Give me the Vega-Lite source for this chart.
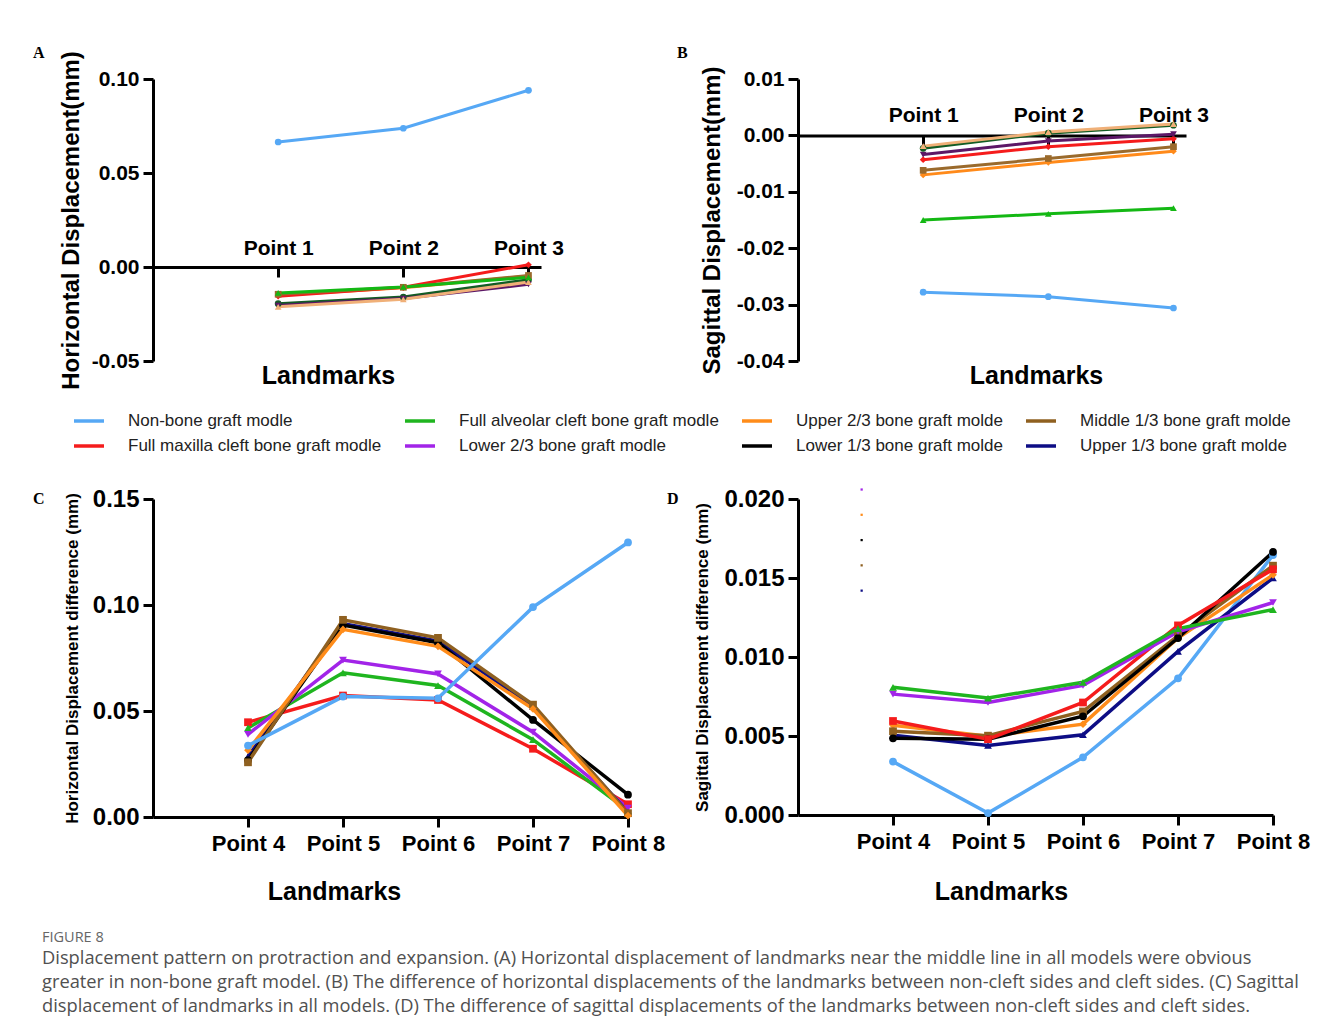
{
  "$schema": "https://vega.github.io/schema/vega-lite/v6.json",
  "background": "white",
  "padding": {"left": 33, "top": 44, "right": 10, "bottom": 10},
  "columns": 2,
  "bounds": "flush",
  "spacing": {"row": 138, "column": 170},
  "title": {
    "text": "FIGURE 8",
    "subtitle": [
      "Displacement pattern on protraction and expansion. (A) Horizontal displacement of landmarks near the middle line in all models were obvious",
      "greater in non-bone graft model. (B) The difference of horizontal displacements of the landmarks between non-cleft sides and cleft sides. (C) Sagittal",
      "displacement of landmarks in all models. (D) The difference of sagittal displacements of the landmarks between non-cleft sides and cleft sides."
    ],
    "orient": "bottom",
    "anchor": "start",
    "frame": "bounds",
    "font": "Open Sans",
    "fontSize": 14.5,
    "fontWeight": "normal",
    "color": "#666666",
    "subtitleFont": "Open Sans",
    "subtitleFontSize": 18.3,
    "subtitleColor": "#505050",
    "subtitleLineHeight": 24,
    "subtitlePadding": 4,
    "offset": 27,
    "dx": 9
  },
  "datasets": {
    "A": [
      {"series": "Lower 1/3 bone graft molde", "p": 1, "v": -0.0195},
      {"series": "Lower 1/3 bone graft molde", "p": 2, "v": -0.016},
      {"series": "Lower 1/3 bone graft molde", "p": 3, "v": -0.0068},
      {"series": "Lower 2/3 bone graft modle", "p": 1, "v": -0.0205},
      {"series": "Lower 2/3 bone graft modle", "p": 2, "v": -0.0168},
      {"series": "Lower 2/3 bone graft modle", "p": 3, "v": -0.0092},
      {"series": "Upper 1/3 bone graft molde", "p": 1, "v": -0.0212},
      {"series": "Upper 1/3 bone graft molde", "p": 2, "v": -0.0172},
      {"series": "Upper 1/3 bone graft molde", "p": 3, "v": -0.008},
      {"series": "Upper 2/3 bone graft molde", "p": 1, "v": -0.015},
      {"series": "Upper 2/3 bone graft molde", "p": 2, "v": -0.011},
      {"series": "Upper 2/3 bone graft molde", "p": 3, "v": -0.0048},
      {"series": "Full maxilla cleft bone graft modle", "p": 1, "v": -0.0155},
      {"series": "Full maxilla cleft bone graft modle", "p": 2, "v": -0.0108},
      {"series": "Full maxilla cleft bone graft modle", "p": 3, "v": 0.0012},
      {"series": "Middle 1/3 bone graft molde", "p": 1, "v": -0.0145},
      {"series": "Middle 1/3 bone graft molde", "p": 2, "v": -0.0108},
      {"series": "Middle 1/3 bone graft molde", "p": 3, "v": -0.0045},
      {"series": "Full alveolar cleft bone graft modle", "p": 1, "v": -0.0138},
      {"series": "Full alveolar cleft bone graft modle", "p": 2, "v": -0.0106},
      {"series": "Full alveolar cleft bone graft modle", "p": 3, "v": -0.0055},
      {"series": "Non-bone graft modle", "p": 1, "v": 0.0665},
      {"series": "Non-bone graft modle", "p": 2, "v": 0.0738},
      {"series": "Non-bone graft modle", "p": 3, "v": 0.094}
    ],
    "B": [
      {"series": "Non-bone graft modle", "p": 1, "v": -0.0278},
      {"series": "Non-bone graft modle", "p": 2, "v": -0.0286},
      {"series": "Non-bone graft modle", "p": 3, "v": -0.0306},
      {"series": "Full alveolar cleft bone graft modle", "p": 1, "v": -0.015},
      {"series": "Full alveolar cleft bone graft modle", "p": 2, "v": -0.0139},
      {"series": "Full alveolar cleft bone graft modle", "p": 3, "v": -0.0129},
      {"series": "Upper 2/3 bone graft molde", "p": 1, "v": -0.007},
      {"series": "Upper 2/3 bone graft molde", "p": 2, "v": -0.0048},
      {"series": "Upper 2/3 bone graft molde", "p": 3, "v": -0.0028},
      {"series": "Middle 1/3 bone graft molde", "p": 1, "v": -0.0062},
      {"series": "Middle 1/3 bone graft molde", "p": 2, "v": -0.0041},
      {"series": "Middle 1/3 bone graft molde", "p": 3, "v": -0.002},
      {"series": "Full maxilla cleft bone graft modle", "p": 1, "v": -0.0043},
      {"series": "Full maxilla cleft bone graft modle", "p": 2, "v": -0.002},
      {"series": "Full maxilla cleft bone graft modle", "p": 3, "v": -0.0006},
      {"series": "Lower 2/3 bone graft modle", "p": 1, "v": -0.0034},
      {"series": "Lower 2/3 bone graft modle", "p": 2, "v": -0.001},
      {"series": "Lower 2/3 bone graft modle", "p": 3, "v": 0.0002},
      {"series": "Lower 1/3 bone graft molde", "p": 1, "v": -0.0023},
      {"series": "Lower 1/3 bone graft molde", "p": 2, "v": 0.0004},
      {"series": "Lower 1/3 bone graft molde", "p": 3, "v": 0.0018},
      {"series": "Upper 1/3 bone graft molde", "p": 1, "v": -0.0019},
      {"series": "Upper 1/3 bone graft molde", "p": 2, "v": 0.0006},
      {"series": "Upper 1/3 bone graft molde", "p": 3, "v": 0.002}
    ],
    "C": [
      {"series": "Full maxilla cleft bone graft modle", "p": 4, "v": 0.0447},
      {"series": "Full maxilla cleft bone graft modle", "p": 5, "v": 0.0573},
      {"series": "Full maxilla cleft bone graft modle", "p": 6, "v": 0.0552},
      {"series": "Full maxilla cleft bone graft modle", "p": 7, "v": 0.0322},
      {"series": "Full maxilla cleft bone graft modle", "p": 8, "v": 0.006},
      {"series": "Full alveolar cleft bone graft modle", "p": 4, "v": 0.042},
      {"series": "Full alveolar cleft bone graft modle", "p": 5, "v": 0.068},
      {"series": "Full alveolar cleft bone graft modle", "p": 6, "v": 0.062},
      {"series": "Full alveolar cleft bone graft modle", "p": 7, "v": 0.0365},
      {"series": "Full alveolar cleft bone graft modle", "p": 8, "v": 0.003},
      {"series": "Lower 2/3 bone graft modle", "p": 4, "v": 0.039},
      {"series": "Lower 2/3 bone graft modle", "p": 5, "v": 0.074},
      {"series": "Lower 2/3 bone graft modle", "p": 6, "v": 0.0675},
      {"series": "Lower 2/3 bone graft modle", "p": 7, "v": 0.04},
      {"series": "Lower 2/3 bone graft modle", "p": 8, "v": 0.0042},
      {"series": "Upper 1/3 bone graft molde", "p": 4, "v": 0.0285},
      {"series": "Upper 1/3 bone graft molde", "p": 5, "v": 0.0912},
      {"series": "Upper 1/3 bone graft molde", "p": 6, "v": 0.083},
      {"series": "Upper 1/3 bone graft molde", "p": 7, "v": 0.052},
      {"series": "Upper 1/3 bone graft molde", "p": 8, "v": 0.0022},
      {"series": "Lower 1/3 bone graft molde", "p": 4, "v": 0.0268},
      {"series": "Lower 1/3 bone graft molde", "p": 5, "v": 0.0905},
      {"series": "Lower 1/3 bone graft molde", "p": 6, "v": 0.0822},
      {"series": "Lower 1/3 bone graft molde", "p": 7, "v": 0.0458},
      {"series": "Lower 1/3 bone graft molde", "p": 8, "v": 0.0105},
      {"series": "Middle 1/3 bone graft molde", "p": 4, "v": 0.0258},
      {"series": "Middle 1/3 bone graft molde", "p": 5, "v": 0.093},
      {"series": "Middle 1/3 bone graft molde", "p": 6, "v": 0.0845},
      {"series": "Middle 1/3 bone graft molde", "p": 7, "v": 0.053},
      {"series": "Middle 1/3 bone graft molde", "p": 8, "v": 0.0018},
      {"series": "Upper 2/3 bone graft molde", "p": 4, "v": 0.0315},
      {"series": "Upper 2/3 bone graft molde", "p": 5, "v": 0.0885},
      {"series": "Upper 2/3 bone graft molde", "p": 6, "v": 0.0805},
      {"series": "Upper 2/3 bone graft molde", "p": 7, "v": 0.051},
      {"series": "Upper 2/3 bone graft molde", "p": 8, "v": 0.0006},
      {"series": "Non-bone graft modle", "p": 4, "v": 0.0337},
      {"series": "Non-bone graft modle", "p": 5, "v": 0.0568},
      {"series": "Non-bone graft modle", "p": 6, "v": 0.056},
      {"series": "Non-bone graft modle", "p": 7, "v": 0.099},
      {"series": "Non-bone graft modle", "p": 8, "v": 0.1295}
    ],
    "D": [
      {"series": "Non-bone graft modle", "p": 4, "v": 0.00338},
      {"series": "Non-bone graft modle", "p": 5, "v": 0.00012},
      {"series": "Non-bone graft modle", "p": 6, "v": 0.00365},
      {"series": "Non-bone graft modle", "p": 7, "v": 0.00865},
      {"series": "Non-bone graft modle", "p": 8, "v": 0.01645},
      {"series": "Upper 1/3 bone graft molde", "p": 4, "v": 0.00505},
      {"series": "Upper 1/3 bone graft molde", "p": 5, "v": 0.0044},
      {"series": "Upper 1/3 bone graft molde", "p": 6, "v": 0.00508},
      {"series": "Upper 1/3 bone graft molde", "p": 7, "v": 0.01035},
      {"series": "Upper 1/3 bone graft molde", "p": 8, "v": 0.015},
      {"series": "Upper 2/3 bone graft molde", "p": 4, "v": 0.00568},
      {"series": "Upper 2/3 bone graft molde", "p": 5, "v": 0.00498},
      {"series": "Upper 2/3 bone graft molde", "p": 6, "v": 0.00575},
      {"series": "Upper 2/3 bone graft molde", "p": 7, "v": 0.0112},
      {"series": "Upper 2/3 bone graft molde", "p": 8, "v": 0.0152},
      {"series": "Middle 1/3 bone graft molde", "p": 4, "v": 0.0053},
      {"series": "Middle 1/3 bone graft molde", "p": 5, "v": 0.00502},
      {"series": "Middle 1/3 bone graft molde", "p": 6, "v": 0.00655},
      {"series": "Middle 1/3 bone graft molde", "p": 7, "v": 0.01135},
      {"series": "Middle 1/3 bone graft molde", "p": 8, "v": 0.01578},
      {"series": "Lower 1/3 bone graft molde", "p": 4, "v": 0.00485},
      {"series": "Lower 1/3 bone graft molde", "p": 5, "v": 0.0048},
      {"series": "Lower 1/3 bone graft molde", "p": 6, "v": 0.00625},
      {"series": "Lower 1/3 bone graft molde", "p": 7, "v": 0.0112},
      {"series": "Lower 1/3 bone graft molde", "p": 8, "v": 0.01665},
      {"series": "Full maxilla cleft bone graft modle", "p": 4, "v": 0.00595},
      {"series": "Full maxilla cleft bone graft modle", "p": 5, "v": 0.0048},
      {"series": "Full maxilla cleft bone graft modle", "p": 6, "v": 0.00712},
      {"series": "Full maxilla cleft bone graft modle", "p": 7, "v": 0.012},
      {"series": "Full maxilla cleft bone graft modle", "p": 8, "v": 0.01555},
      {"series": "Lower 2/3 bone graft modle", "p": 4, "v": 0.00765},
      {"series": "Lower 2/3 bone graft modle", "p": 5, "v": 0.00712},
      {"series": "Lower 2/3 bone graft modle", "p": 6, "v": 0.0082},
      {"series": "Lower 2/3 bone graft modle", "p": 7, "v": 0.0116},
      {"series": "Lower 2/3 bone graft modle", "p": 8, "v": 0.01345},
      {"series": "Full alveolar cleft bone graft modle", "p": 4, "v": 0.00808},
      {"series": "Full alveolar cleft bone graft modle", "p": 5, "v": 0.0074},
      {"series": "Full alveolar cleft bone graft modle", "p": 6, "v": 0.0084},
      {"series": "Full alveolar cleft bone graft modle", "p": 7, "v": 0.0118},
      {"series": "Full alveolar cleft bone graft modle", "p": 8, "v": 0.013}
    ],
    "Dstray": [
      {"series": "Lower 2/3 bone graft modle", "p": 3.67, "v": 0.0206},
      {"series": "Upper 2/3 bone graft molde", "p": 3.67, "v": 0.019},
      {"series": "Lower 1/3 bone graft molde", "p": 3.67, "v": 0.0174},
      {"series": "Middle 1/3 bone graft molde", "p": 3.67, "v": 0.0158},
      {"series": "Upper 1/3 bone graft molde", "p": 3.67, "v": 0.0142}
    ]
  },
  "resolve": {
    "scale": {"x": "independent", "y": "independent", "color": "shared", "stroke": "independent", "fill": "independent", "shape": "independent"},
    "legend": {"color": "shared", "stroke": "independent", "fill": "independent", "shape": "independent"},
    "axis": {"x": "independent", "y": "independent"}
  },
  "concat": [
    {
      "title": {"text": "A", "anchor": "start", "frame": "group", "font": "Liberation Serif", "fontSize": 16, "fontWeight": "bold", "color": "#000", "baseline": "alphabetic", "offset": 0, "dx": -120, "dy": 23},
      "width": 388,
      "height": 282,
      "data": {"name": "A"},
      "encoding": {
        "x": {"field": "p", "type": "quantitative", "scale": {"domain": [0, 3.1], "nice": false, "zero": false},
          "axis": {"title": "Landmarks", "values": [1, 2, 3], "labelExpr": "'Point ' + datum.value", "offset": -94, "labelPadding": -23, "labelBaseline": "alphabetic", "labelFontSize": 21, "titleFontSize": 25, "titleX": 175, "titleY": 96, "titleBaseline": "top"}},
        "y": {"field": "v", "type": "quantitative", "scale": {"domain": [-0.05, 0.1], "nice": false, "zero": false},
          "axis": {"title": "Horizontal Displacement(mm)", "values": [-0.05, 0, 0.05, 0.1], "labelExpr": "replace(format(datum.value, '.2f'), '\u2212', '-')", "labelFontSize": 21, "titleFontSize": 24, "titlePadding": 8}}
      },
      "layer": [
        {"mark": {"type": "line", "strokeWidth": 3},
          "encoding": {"stroke": {"field": "series", "type": "nominal", "legend": null,
            "scale": {"domain": ["Non-bone graft modle", "Full maxilla cleft bone graft modle", "Full alveolar cleft bone graft modle", "Lower 2/3 bone graft modle", "Upper 2/3 bone graft molde", "Lower 1/3 bone graft molde", "Middle 1/3 bone graft molde", "Upper 1/3 bone graft molde"],
              "range": ["#56a8f5", "#f51c1c", "#14b814", "#5c1766", "#ff8a1a", "#135c24", "#9a6a2c", "#f0b078"]}}}},
        {"mark": {"type": "point", "filled": true, "size": 45, "opacity": 1},
          "encoding": {
            "fill": {"field": "series", "type": "nominal", "legend": null,
              "scale": {"domain": ["Non-bone graft modle", "Full maxilla cleft bone graft modle", "Full alveolar cleft bone graft modle", "Lower 2/3 bone graft modle", "Upper 2/3 bone graft molde", "Lower 1/3 bone graft molde", "Middle 1/3 bone graft molde", "Upper 1/3 bone graft molde"],
                "range": ["#56a8f5", "#f51c1c", "#14b814", "#5c1766", "#ff8a1a", "#135c24", "#9a6a2c", "#f0b078"]}},
            "shape": {"field": "series", "type": "nominal", "legend": null,
              "scale": {"domain": ["Non-bone graft modle", "Full maxilla cleft bone graft modle", "Full alveolar cleft bone graft modle", "Lower 2/3 bone graft modle", "Upper 2/3 bone graft molde", "Lower 1/3 bone graft molde", "Middle 1/3 bone graft molde", "Upper 1/3 bone graft molde"],
                "range": ["circle", "diamond", "triangle-up", "triangle-down", "diamond", "circle", "square", "triangle-up"]}}}}
      ]
    },
    {
      "title": {"text": "B", "anchor": "start", "frame": "group", "font": "Liberation Serif", "fontSize": 16, "fontWeight": "bold", "color": "#000", "baseline": "alphabetic", "offset": 0, "dx": -121, "dy": 8},
      "width": 388,
      "height": 282,
      "data": {"name": "B"},
      "encoding": {
        "x": {"field": "p", "type": "quantitative", "scale": {"domain": [0, 3.1], "nice": false, "zero": false},
          "axis": {"title": "Landmarks", "values": [1, 2, 3], "labelExpr": "'Point ' + datum.value", "offset": -225.6, "labelPadding": -24, "labelBaseline": "alphabetic", "labelFontSize": 21, "titleFontSize": 25, "titleX": 238, "titleY": 228, "titleBaseline": "top"}},
        "y": {"field": "v", "type": "quantitative", "scale": {"domain": [-0.04, 0.01], "nice": false, "zero": false},
          "axis": {"title": "Sagittal Displacement(mm)", "values": [-0.04, -0.03, -0.02, -0.01, 0, 0.01], "labelExpr": "replace(format(datum.value, '.2f'), '\u2212', '-')", "labelFontSize": 21, "titleFontSize": 24, "titlePadding": 12}}
      },
      "layer": [
        {"mark": {"type": "line", "strokeWidth": 3},
          "encoding": {"stroke": {"field": "series", "type": "nominal", "legend": null,
            "scale": {"domain": ["Non-bone graft modle", "Full maxilla cleft bone graft modle", "Full alveolar cleft bone graft modle", "Lower 2/3 bone graft modle", "Upper 2/3 bone graft molde", "Lower 1/3 bone graft molde", "Middle 1/3 bone graft molde", "Upper 1/3 bone graft molde"],
              "range": ["#56a8f5", "#f51c1c", "#14b814", "#5c1766", "#ff8a1a", "#135c24", "#9a6a2c", "#f0b078"]}}}},
        {"mark": {"type": "point", "filled": true, "size": 45, "opacity": 1},
          "encoding": {
            "fill": {"field": "series", "type": "nominal", "legend": null,
              "scale": {"domain": ["Non-bone graft modle", "Full maxilla cleft bone graft modle", "Full alveolar cleft bone graft modle", "Lower 2/3 bone graft modle", "Upper 2/3 bone graft molde", "Lower 1/3 bone graft molde", "Middle 1/3 bone graft molde", "Upper 1/3 bone graft molde"],
                "range": ["#56a8f5", "#f51c1c", "#14b814", "#5c1766", "#ff8a1a", "#135c24", "#9a6a2c", "#f0b078"]}},
            "shape": {"field": "series", "type": "nominal", "legend": null,
              "scale": {"domain": ["Non-bone graft modle", "Full maxilla cleft bone graft modle", "Full alveolar cleft bone graft modle", "Lower 2/3 bone graft modle", "Upper 2/3 bone graft molde", "Lower 1/3 bone graft molde", "Middle 1/3 bone graft molde", "Upper 1/3 bone graft molde"],
                "range": ["circle", "diamond", "triangle-up", "triangle-down", "diamond", "circle", "square", "triangle-up"]}}}}
      ]
    },
    {
      "title": {"text": "C", "anchor": "start", "frame": "group", "font": "Liberation Serif", "fontSize": 16, "fontWeight": "bold", "color": "#000", "baseline": "alphabetic", "offset": 0, "dx": -120, "dy": 34},
      "width": 475,
      "height": 318,
      "data": {"name": "C"},
      "encoding": {
        "x": {"field": "p", "type": "quantitative", "scale": {"domain": [3, 8], "nice": false, "zero": false},
          "axis": {"title": "Landmarks", "values": [4, 5, 6, 7, 8], "labelExpr": "'Point ' + datum.value", "labelPadding": 6, "labelFontSize": 22, "titleFontSize": 25, "titleX": 181, "titleY": 62, "titleBaseline": "top"}},
        "y": {"field": "v", "type": "quantitative", "scale": {"domain": [0, 0.15], "nice": false, "zero": false},
          "axis": {"title": "Horizontal Displacement difference    (mm)", "values": [0, 0.05, 0.1, 0.15], "format": ".2f", "labelFontSize": 24, "titleFontSize": 17, "titlePadding": 11}}
      },
      "layer": [
        {"mark": {"type": "line", "strokeWidth": 3.5},
          "encoding": {"color": {"field": "series", "type": "nominal",
            "scale": {"domain": ["Non-bone graft modle", "Full maxilla cleft bone graft modle", "Full alveolar cleft bone graft modle", "Lower 2/3 bone graft modle", "Upper 2/3 bone graft molde", "Lower 1/3 bone graft molde", "Middle 1/3 bone graft molde", "Upper 1/3 bone graft molde"],
              "range": ["#56a8f5", "#f51c1c", "#1fb51f", "#a224e8", "#ff8c1a", "#000000", "#8f6020", "#0d0d85"]},
            "legend": {"orient": "none", "legendX": -81, "legendY": 325, "columns": 4, "title": null, "symbolType": "stroke", "symbolSize": 900, "symbolStrokeWidth": 3.5, "labelFont": "Liberation Sans", "labelFontSize": 17, "labelColor": "#222222", "labelFontWeight": "normal", "labelOffset": 22, "labelLimit": 400, "columnPadding": 16, "rowPadding": -7}}}},
        {"mark": {"type": "point", "filled": true, "size": 60, "opacity": 1},
          "encoding": {
            "color": {"field": "series", "type": "nominal"},
            "shape": {"field": "series", "type": "nominal", "legend": null,
              "scale": {"domain": ["Non-bone graft modle", "Full maxilla cleft bone graft modle", "Full alveolar cleft bone graft modle", "Lower 2/3 bone graft modle", "Upper 2/3 bone graft molde", "Lower 1/3 bone graft molde", "Middle 1/3 bone graft molde", "Upper 1/3 bone graft molde"],
                "range": ["circle", "square", "triangle-up", "triangle-down", "diamond", "circle", "square", "triangle-up"]}}}}
      ]
    },
    {
      "title": {"text": "D", "anchor": "start", "frame": "group", "font": "Liberation Serif", "fontSize": 16, "fontWeight": "bold", "color": "#000", "baseline": "alphabetic", "offset": 0, "dx": -131, "dy": 33},
      "width": 475,
      "height": 316,
      "encoding": {
        "x": {"field": "p", "type": "quantitative", "scale": {"domain": [3, 8], "nice": false, "zero": false},
          "axis": {"title": "Landmarks", "values": [4, 5, 6, 7, 8], "labelExpr": "'Point ' + datum.value", "labelPadding": 6, "labelFontSize": 22, "titleFontSize": 25, "titleX": 203, "titleY": 64, "titleBaseline": "top"}},
        "y": {"field": "v", "type": "quantitative", "scale": {"domain": [0, 0.02], "nice": false, "zero": false},
          "axis": {"title": "Sagittal Displacement difference    (mm)", "values": [0, 0.005, 0.01, 0.015, 0.02], "format": ".3f", "labelFontSize": 24, "titleFontSize": 17, "titlePadding": 12}}
      },
      "layer": [
        {"data": {"name": "D"}, "mark": {"type": "line", "strokeWidth": 3.5},
          "encoding": {"color": {"field": "series", "type": "nominal"}}},
        {"data": {"name": "D"}, "mark": {"type": "point", "filled": true, "size": 60, "opacity": 1},
          "encoding": {
            "color": {"field": "series", "type": "nominal"},
            "shape": {"field": "series", "type": "nominal", "legend": null,
              "scale": {"domain": ["Non-bone graft modle", "Full maxilla cleft bone graft modle", "Full alveolar cleft bone graft modle", "Lower 2/3 bone graft modle", "Upper 2/3 bone graft molde", "Lower 1/3 bone graft molde", "Middle 1/3 bone graft molde", "Upper 1/3 bone graft molde"],
                "range": ["circle", "square", "triangle-up", "triangle-down", "diamond", "circle", "square", "triangle-up"]}}}},
        {"data": {"name": "Dstray"}, "mark": {"type": "square", "size": 5, "opacity": 1},
          "encoding": {"color": {"field": "series", "type": "nominal"}}}
      ]
    }
  ],
  "config": {
    "view": {"stroke": null},
    "font": "Liberation Sans",
    "axis": {
      "domainColor": "#000000", "domainWidth": 3, "tickColor": "#000000", "tickWidth": 3, "tickSize": 10,
      "labelColor": "#000000", "labelFont": "Liberation Sans", "labelFontWeight": "bold", "labelPadding": 4,
      "titleColor": "#000000", "titleFont": "Liberation Sans", "titleFontWeight": "bold",
      "grid": false, "labelFlush": false, "labelOverlap": false
    }
  }
}
